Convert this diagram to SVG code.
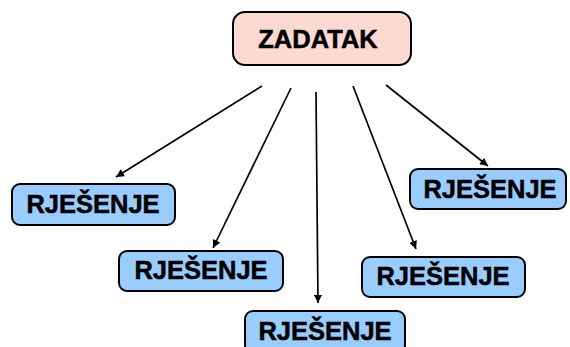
<svg xmlns="http://www.w3.org/2000/svg" width="570" height="347" viewBox="0 0 570 347">
<style>
.box{fill:#99ccff;stroke:#000;stroke-width:2}
.top{fill:#fcd9d1;stroke:#000;stroke-width:2}
.t{font-family:"Liberation Sans",Arial,sans-serif;font-weight:bold;font-size:25.5px;fill:#000;stroke:#000;stroke-width:0.5;text-anchor:middle}
.c{stroke:#000;stroke-width:1.7;fill:none;marker-end:url(#ah)}
</style>
<defs>
<marker id="ah" viewBox="0 0 10 10" refX="10" refY="5" markerWidth="9" markerHeight="8" markerUnits="userSpaceOnUse" orient="auto">
<path d="M0,0 L10,5 L0,10 z" fill="#000"/>
</marker>
</defs>
<rect width="570" height="347" fill="#fff"/>
<g id="connectors">
<line class="c" x1="262" y1="86" x2="116" y2="177"/>
<line class="c" x1="291" y1="88" x2="213" y2="248"/>
<line class="c" x1="316" y1="92" x2="318" y2="303"/>
<line class="c" x1="353" y1="86" x2="416" y2="249"/>
<line class="c" x1="386" y1="85" x2="488" y2="166"/>
</g>
<g id="zadatak">
<rect class="top" x="233" y="12" width="178" height="53" rx="12"/>
<text class="t" x="318" y="48">ZADATAK</text>
</g>
<g id="rjesenje1">
<rect class="box" x="12" y="184" width="163" height="41" rx="8"/>
<text class="t" x="93" y="213">RJEŠENJE</text>
</g>
<g id="rjesenje2">
<rect class="box" x="119" y="251" width="164" height="40" rx="8"/>
<text class="t" x="201" y="279">RJEŠENJE</text>
</g>
<g id="rjesenje3">
<rect class="box" x="245" y="311" width="160" height="42" rx="8"/>
<text class="t" x="325" y="340">RJEŠENJE</text>
</g>
<g id="rjesenje4">
<rect class="box" x="410" y="169" width="156" height="40" rx="8"/>
<text class="t" x="490" y="198">RJEŠENJE</text>
</g>
<g id="rjesenje5">
<rect class="box" x="362" y="257" width="163" height="40" rx="8"/>
<text class="t" x="443" y="285">RJEŠENJE</text>
</g>
</svg>
